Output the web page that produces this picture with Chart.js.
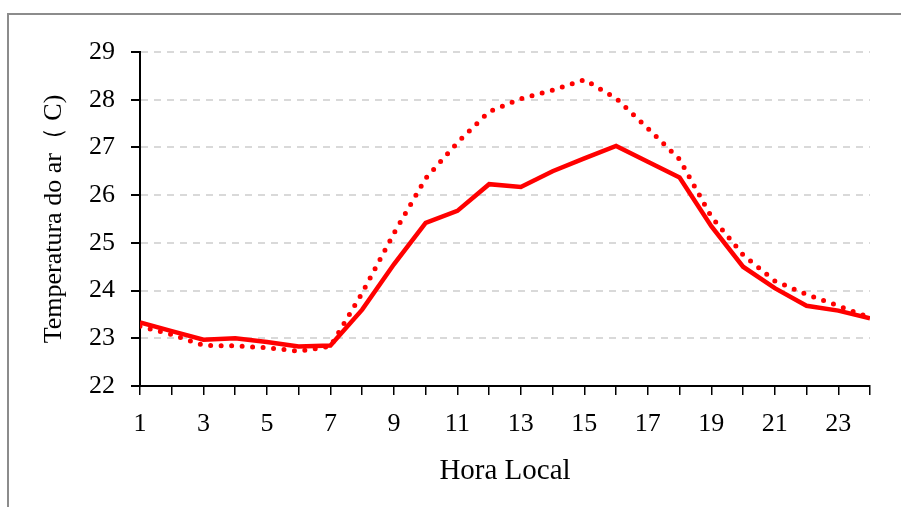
<!DOCTYPE html>
<html>
<head>
<meta charset="utf-8">
<script src="https://cdn.jsdelivr.net/npm/chart.js@4/dist/chart.umd.min.js"></script>
<style>
  html, body { margin: 0; padding: 0; background: #fff; overflow: hidden; }
  #wrap { position: relative; width: 901px; height: 507px; }
  #frame { position: absolute; left: 7px; top: 13px; width: 1000px; height: 600px;
           border-top: 2px solid #8c8c8c; border-left: 2px solid #8c8c8c; }
  canvas { position: absolute; left: 0; top: 0; }
</style>
</head>
<body>
<div id="wrap">
  <div id="frame"></div>
  <canvas id="chart" width="901" height="507"></canvas>
</div>
<script>
// hora local 1..24
const hours = [1, 2, 3, 4, 5, 6, 7, 8, 9, 10, 11, 12, 13, 14, 15, 16, 17, 18, 19, 20, 21, 22, 23, 24];
const tempSolid = [23.33, 23.15, 22.97, 23.0, 22.92, 22.83, 22.85, 23.6, 24.55, 25.42, 25.67, 26.23,
                   26.17, 26.5, 26.77, 27.03, 26.7, 26.37, 25.35, 24.5, 24.05, 23.68, 23.58, 23.42];
const tempDotted = [23.25, 23.08, 22.85, 22.84, 22.8, 22.73, 22.83, 23.95, 25.2, 26.35, 27.1, 27.75,
                    28.02, 28.2, 28.42, 28.03, 27.4, 26.75, 25.55, 24.75, 24.2, 23.92, 23.68, 23.43];
const yTicks = [22, 23, 24, 25, 26, 27, 28, 29];

const serif = "'Liberation Serif', 'Times New Roman', serif";

new Chart(document.getElementById("chart"), {
  type: "line",
  data: {
    datasets: [
      {
        label: "solid",
        data: hours.map((h, i) => ({ x: h, y: tempSolid[i] })),
        borderColor: "#ff0000",
        borderWidth: 4.5,
        pointRadius: 0,
        tension: 0
      },
      {
        label: "dotted",
        data: hours.map((h, i) => ({ x: h, y: tempDotted[i] })),
        borderColor: "#ff0000",
        borderWidth: 5,
        borderDash: [0, 10.5],
        borderCapStyle: "round",
        pointRadius: 0,
        tension: 0
      }
    ]
  },
  options: {
    responsive: false,
    animation: false,
    layout: { padding: { left: 0, top: 52, right: 31, bottom: 0 } },
    plugins: { legend: { display: false }, tooltip: { enabled: false } },
    scales: {
      x: {
        type: "linear",
        min: 1,
        max: 24,
        afterFit: s => { s.height = 121; },
        afterBuildTicks: s => { s.ticks = hours.map(v => ({ value: v })); },
        ticks: {
          autoSkip: false,
          maxRotation: 0,
          color: "#000",
          padding: 14,
          font: { family: serif, size: 26 },
          callback: v => (v % 2 === 1 ? String(v) : "")
        },
        grid: { drawOnChartArea: false, tickLength: 9, color: "#000", lineWidth: 1.5 },
        border: { color: "#000", width: 2 },
        title: {
          display: true,
          text: "Hora Local",
          color: "#000",
          font: { family: serif, size: 29 },
          padding: { top: 0, bottom: 18 }
        }
      },
      y: {
        min: 22,
        max: 29,
        afterFit: s => { s.width = 140; },
        afterBuildTicks: s => { s.ticks = yTicks.map(v => ({ value: v })); },
        ticks: {
          color: "#000",
          padding: 16,
          font: { family: serif, size: 26 }
        },
        grid: {
          color: "#d9d9d9",
          lineWidth: 2,
          tickColor: "#000",
          tickLength: 9
        },
        border: { color: "#000", width: 2, dash: [7, 6] },
        title: {
          display: true,
          text: "Temperatura do ar（ C)",
          color: "#000",
          font: { family: serif, size: 26 },
          padding: { top: 39, bottom: 0 }
        }
      }
    }
  }
});
</script>
</body>
</html>
